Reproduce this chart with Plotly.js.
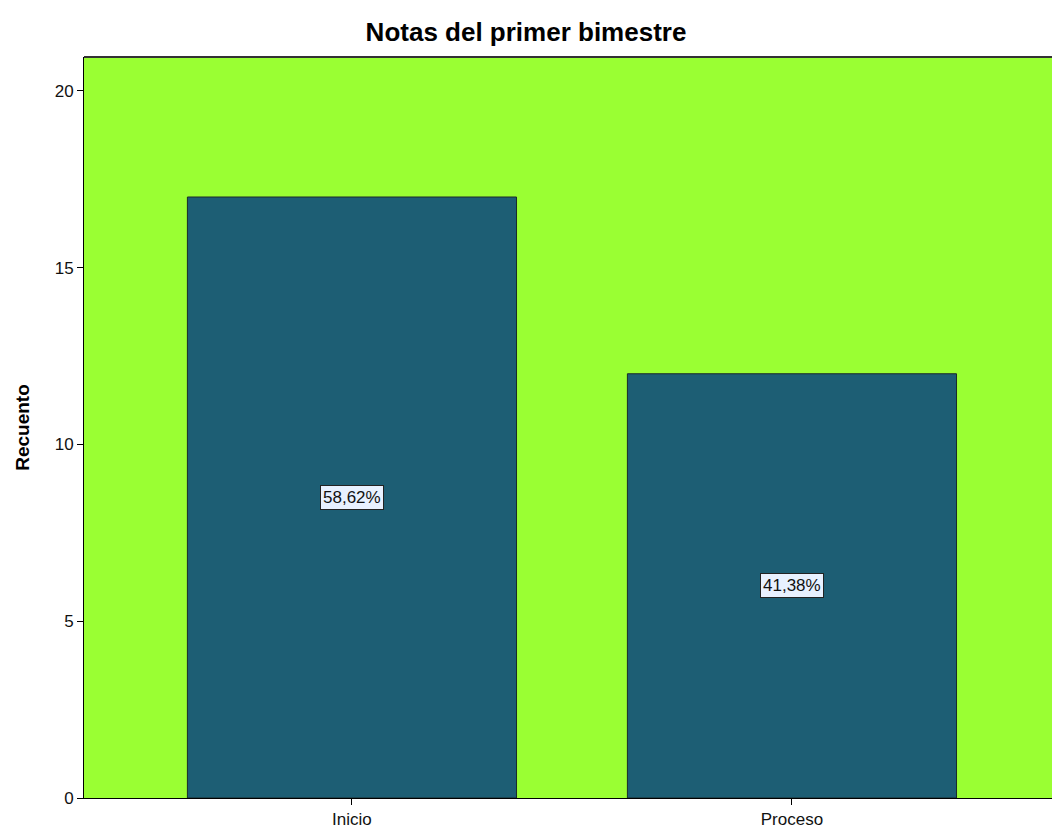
<!DOCTYPE html>
<html>
<head>
<meta charset="utf-8">
<script src="https://cdn.plot.ly/plotly-3.0.1.min.js"></script>
<style>html,body{margin:0;padding:0;background:#fff}#chart{width:1052px;height:832px}</style>
</head>
<body>
<div id="chart"></div>
<script>
const categories = ["Inicio", "Proceso"];
const counts = [17, 12];
const yTicks = [0, 5, 10, 15, 20];

const total = counts.reduce((a, b) => a + b, 0);
const pctLabels = counts.map(c => (c / total * 100).toFixed(2).replace('.', ',') + '%');

const FONT = 'Arial, Liberation Sans, sans-serif';

const trace = {
  type: 'bar',
  x: categories,
  y: counts,
  width: 0.748,
  marker: {color: '#1D5E74', line: {color: '#1a2a2a', width: 1}},
  hoverinfo: 'skip'
};

const annotations = categories.map((c, i) => ({
  x: c, y: counts[i] / 2, xref: 'x', yref: 'y',
  text: pctLabels[i], showarrow: false,
  font: {family: FONT, size: 17, color: '#111'},
  bgcolor: '#E8F1FF', bordercolor: '#222', borderwidth: 1, borderpad: 2
}));

const layout = {
  width: 1052, height: 832,
  margin: {l: 84, r: 0, t: 57, b: 34},
  paper_bgcolor: '#ffffff',
  plot_bgcolor: '#9AFF33',
  showlegend: false,
  title: {
    text: 'Notas del primer bimestre',
    font: {family: FONT, size: 26, color: '#000', weight: 'bold'},
    x: 0.5, xanchor: 'center', xref: 'container',
    y: 1 - 32 / 832, yref: 'container', yanchor: 'middle'
  },
  xaxis: {
    type: 'category',
    range: [-0.609, 1.591],
    showgrid: false, zeroline: false,
    showline: true, linecolor: '#000', linewidth: 1,
    ticks: 'outside', ticklen: 6, tickcolor: '#000', tickwidth: 1,
    tickfont: {family: FONT, size: 17, color: '#111'}
  },
  yaxis: {
    range: [0, 20.96],
    tickvals: yTicks,
    ticktext: yTicks.map(String),
    showgrid: false, zeroline: false,
    showline: true, linecolor: '#000', linewidth: 1,
    ticks: 'outside', ticklen: 6, tickcolor: '#000', tickwidth: 1,
    tickfont: {family: FONT, size: 17, color: '#111'},
    title: {
      text: 'Recuento',
      font: {family: FONT, size: 19, color: '#000', weight: 'bold'},
      standoff: 20
    }
  },
  shapes: [{
    type: 'line', xref: 'paper', yref: 'paper',
    x0: 0, x1: 1, y0: 1, y1: 1,
    line: {color: '#333', width: 2}
  }],
  annotations: annotations
};

Plotly.newPlot('chart', [trace], layout, {displayModeBar: false, staticPlot: true});
</script>
</body>
</html>
